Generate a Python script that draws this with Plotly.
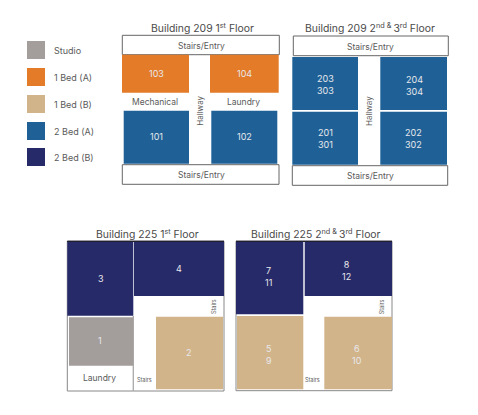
import plotly.graph_objects as go

# Unit type colours
GRAY = "#A39E9B"
ORANGE = "#E37B28"
TAN = "#D2B48A"
BLUE = "#1F6197"
NAVY = "#262A68"
FONT = "Inter, sans-serif"
TEXT = "#5A5A5A"

legend_names = ["Studio", "1 Bed (A)", "1 Bed (B)", "2 Bed (A)", "2 Bed (B)"]
legend_colors = [GRAY, ORANGE, TAN, BLUE, NAVY]
legend_tops = [41, 68, 95, 122, 148]

# rooms: x0, x1, y0, y1 on the page, colour
rooms_209_1 = [
    (122, 189, 54.7, 92.7, ORANGE),
    (210, 278.7, 54.7, 92.7, ORANGE),
    (123.7, 189, 110.7, 163.7, BLUE),
    (211.3, 277.3, 110.7, 163.7, BLUE),
]
rooms_209_2 = [
    (292.3, 358, 57, 110, BLUE),
    (380.3, 447, 57, 110, BLUE),
    (292.3, 358, 111.7, 164.7, BLUE),
    (380.3, 447, 111.7, 164.7, BLUE),
]
rooms_225_1 = [
    (67.3, 133.3, 241.3, 315.7, NAVY),
    (134, 224, 241.3, 296, NAVY),
    (69, 133.3, 317.3, 365.7, GRAY),
    (156, 223, 316.7, 389.3, TAN),
]
rooms_225_2 = [
    (236, 303.3, 241.3, 314.3, NAVY),
    (304.7, 392, 241.3, 296, NAVY),
    (237, 303.3, 316, 389.3, TAN),
    (324.3, 392, 316.7, 389.3, TAN),
]
all_rooms = rooms_209_1 + rooms_209_2 + rooms_225_1 + rooms_225_2

# stairs boxes and outlines
boxes = [
    (122.3, 279.3, 35.3, 54.7),
    (122.3, 279, 164.7, 184.3),
    (293.3, 448.3, 36, 55.7),
    (292.3, 447.7, 165.7, 185.3),
]

titles = [
    ("Building 209 1<sup>st</sup> Floor", 202, 27.5),
    ("Building 209 2<sup>nd & </sup>3<sup>rd</sup> Floor", 370, 27.5),
    ("Building 225 1<sup>st</sup> Floor", 147.3, 234),
    ("Building 225 2<sup>nd & </sup>3<sup>rd</sup> Floor", 315.7, 234),
]

# white labels inside the rooms
room_labels = [
    ("103", 156.5, 73.5), ("104", 244.5, 73.5), ("101", 156.5, 136.5), ("102", 244.5, 136.5),
    ("203<br>303", 325.3, 84), ("204<br>304", 414.7, 85),
    ("201<br>301", 325.7, 138.7), ("202<br>302", 413.7, 138.7),
    ("3", 101.3, 278.7), ("4", 178.7, 268.3), ("1", 100, 340.7), ("2", 189.3, 352.3),
    ("7<br>11", 268.7, 276), ("8<br>12", 346, 270.7), ("5<br>9", 269, 354), ("6<br>10", 357.3, 354),
]

# dark labels: text, x, y, size, angle
plan_labels = [
    ("Stairs/Entry", 201.7, 46, 8.5, 0), ("Stairs/Entry", 201, 175, 8.5, 0),
    ("Mechanical", 155, 102, 8.5, 0), ("Laundry", 243, 102, 8.5, 0),
    ("Hallway", 200, 110.7, 8, -90),
    ("Stairs/Entry", 370.7, 47, 8.5, 0), ("Stairs/Entry", 370, 176, 8.5, 0),
    ("Hallway", 369, 111, 8, -90),
    ("Laundry", 99.3, 378.3, 8.5, 0), ("Stairs", 144.3, 379, 5.5, 0), ("Stairs", 213.3, 306.7, 5.5, -90),
    ("Stairs", 312.7, 379.3, 5.5, 0), ("Stairs", 381.3, 307, 5.5, -90),
]

fig = go.Figure()

def add_rect(x0, x1, y0, y1, fill=None, line=None, width=1):
    fig.add_trace(go.Scatter(
        x=[x0, x1, x1, x0, x0], y=[y0, y0, y1, y1, y0],
        mode="lines", fill="toself" if fill else None,
        fillcolor=fill, line=dict(color=line or "rgba(0,0,0,0)", width=width),
        hoverinfo="skip", showlegend=False))

def add_text(text, x, y, size, color=TEXT, angle=0, anchor="center"):
    fig.add_annotation(x=x, y=y, text=text, showarrow=False, xanchor=anchor,
                       textangle=angle, font=dict(size=size, color=color, family=FONT))

for x0, x1, y0, y1 in boxes:
    add_rect(x0, x1, y0, y1, line="#666666", width=1)

# outer walls of the 225 plans
add_rect(67.3, 224, 241.3, 391, line="#888888", width=1)
add_rect(236, 392, 241.3, 390.7, line="#888888", width=1)
add_rect(133.3, 133.3, 316, 391, line="#AAAAAA", width=1)

for x0, x1, y0, y1, color in all_rooms:
    add_rect(x0, x1, y0, y1, fill=color)

# dark top edge above the navy rooms
add_rect(67.3, 224, 241.3, 241.3, line="#1E1E2E", width=1)
add_rect(236, 392, 241.3, 241.3, line="#1E1E2E", width=1)

for name, color, top in zip(legend_names, legend_colors, legend_tops):
    add_rect(27, 45, top, top + 18, fill=color)
    add_text(name, 52, top + 9.5, 9, anchor="left")

for text, x, y in titles:
    add_text(text, x, y, 10.4, color="#4A4A4A")
for text, x, y in room_labels:
    add_text(text, x, y, 9, color="#E8E8EC")
for text, x, y, size, angle in plan_labels:
    add_text(text, x, y, size, angle=angle)

fig.update_xaxes(range=[0, 478], visible=False, fixedrange=True)
fig.update_yaxes(range=[415, 0], visible=False, fixedrange=True)
fig.update_layout(width=478, height=415, margin=dict(l=0, r=0, t=0, b=0),
                  paper_bgcolor="white", plot_bgcolor="white", showlegend=False)

# page default margin would shift the figure by 8px
fig.write_html("out.html", config={"displayModeBar": False},
               post_script="document.body.style.margin='0';")
